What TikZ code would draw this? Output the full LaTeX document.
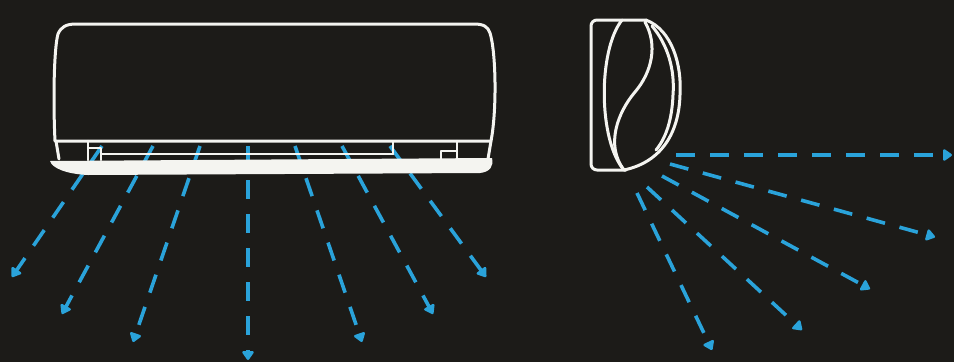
\documentclass[tikz,border=0pt]{standalone}
\usetikzlibrary{arrows.meta}
\definecolor{bgdark}{HTML}{1C1B18}
\definecolor{airblue}{HTML}{2AA3DA}
\definecolor{unitwhite}{HTML}{F4F4F0}
\begin{document}
\begin{tikzpicture}[x=1pt,y=-1pt,
  unitline/.style={draw=unitwhite,line width=3pt,line join=round,line cap=round},
  airflow/.style={draw=airblue,line width=3.6pt,dash pattern=on 19pt off 15pt,
    -{Triangle[length=10pt,width=13pt,round]}}]
% canvas
\fill[bgdark] (0,0) rectangle (954,362);
\useasboundingbox (0,0) rectangle (954,362);

% ---------- indoor split unit, front view ----------
% air streams (drawn first so the louvre tray covers them)
\coordinate (s1) at (102,146); \coordinate (e1) at (12,277);
\coordinate (s2) at (153,146); \coordinate (e2) at (62,314);
\coordinate (s3) at (200,146); \coordinate (e3) at (133,342);
\coordinate (s4) at (248,146); \coordinate (e4) at (248,360);
\coordinate (s5) at (295,146); \coordinate (e5) at (362,342);
\coordinate (s6) at (342,146); \coordinate (e6) at (433,314);
\coordinate (s7) at (390,146); \coordinate (e7) at (486,277);
\foreach \i in {1,...,7} \draw[airflow] (s\i) -- (e\i);

% casing
\draw[unitline] (55,141) .. controls (53,100) and (54,48) .. (58,34)
  .. controls (61,27) and (66,24) .. (76,24) -- (474,24)
  .. controls (484,24) and (488,27) .. (490,33)
  .. controls (496,52) and (497,110) .. (491,141) -- cycle;
% lower housing sides
\draw[unitline] (56,141) -- (59,159);
\draw[unitline] (491,141) -- (488,159);
% outlet slot and clips
\draw[unitline,line width=2.2pt] (102,154) -- (393,154);
\draw[unitline,line width=2.2pt] (393,142) -- (393,154);
\draw[unitline,line width=2.2pt] (88,141) -- (88,160);
\draw[unitline,line width=2.2pt] (88,148) -- (101,148) -- (101,160);
\draw[unitline,line width=2.2pt] (457,141) -- (457,160);
\draw[unitline,line width=2.2pt] (441,160) -- (441,151) -- (457,151);
% louvre tray
\fill[unitwhite] (50,161) -- (492,158)
  .. controls (494,166) and (490,172) .. (480,173) -- (88,175)
  .. controls (66,174) and (52,168) .. (50,161) -- cycle;

% ---------- indoor unit, side view ----------
\draw[unitline,rounded corners=6pt] (626,170) -- (591,170) -- (591,20) -- (646,20);
% front leaf
\draw[unitline] (622,20) .. controls (598,50) and (598,140) .. (624,170);
% S-shaped panel seam
\draw[unitline] (645,22) .. controls (658,45) and (652,72) .. (635,92)
  .. controls (618,112) and (605,145) .. (624,170);
% outer profile
\draw[unitline] (646,20) .. controls (672,30) and (682,65) .. (680,95)
  .. controls (679,132) and (662,162) .. (624,170);
% inner profile line
\draw[unitline] (652,26) .. controls (668,45) and (675,70) .. (673,95)
  .. controls (672,120) and (666,138) .. (656,150);

% side air streams
\coordinate (r1) at (676,155); \coordinate (t1) at (952,155);
\coordinate (r2) at (670,164); \coordinate (t2) at (935,237);
\coordinate (r3) at (662,176); \coordinate (t3) at (870,289);
\coordinate (r4) at (647,187); \coordinate (t4) at (802,330);
\coordinate (r5) at (637,193); \coordinate (t5) at (712,350);
\foreach \i in {1,...,5} \draw[airflow] (r\i) -- (t\i);
\end{tikzpicture}
\end{document}
